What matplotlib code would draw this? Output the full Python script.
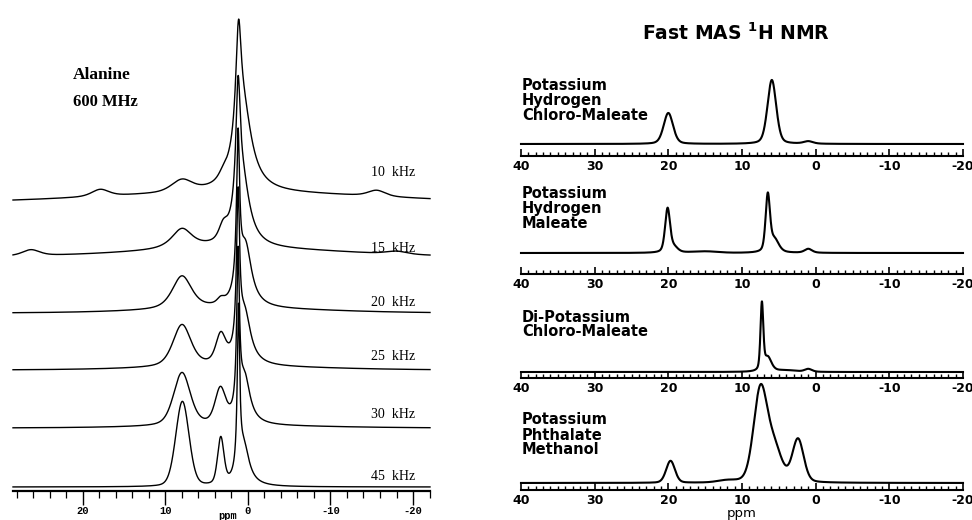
import numpy as np
import matplotlib.pyplot as plt
from matplotlib.ticker import MultipleLocator

W, H = 972, 520

# --- Alanine, 600 MHz: peaks (ppm, height in px, fwhm ppm, lorentz fraction)
speeds = ["10  kHz", "15  kHz", "20  kHz", "25  kHz", "30  kHz", "45  kHz"]
peaks_10k = [(1.15, 105, 0.8, 1.0), (0.6, 80, 2.6, 1.0), (3.0, 5, 1.2, 0.5), (8.0, 12, 3.0, 0.5),
             (17.9, 7, 2.5, 0.5), (-15.6, 6, 2.5, 0.5), (1.0, 10, 40, 0.0)]
peaks_15k = [(1.2, 118, 0.65, 1.0), (0.7, 65, 2.2, 1.0), (3.0, 13, 1.2, 0.5), (8.0, 20, 3.0, 0.8),
             (26.3, 6, 2.5, 0.5), (-18.0, 3, 3.0, 0.5), (1.0, 8, 30, 0.0)]
peaks_20k = [(1.2, 150, 0.45, 1.0), (0.3, 60, 1.8, 1.0), (3.3, 5, 1.0, 0.5), (8.0, 33, 2.8, 0.6),
             (1.0, 4, 25, 0.0)]
peaks_25k = [(1.2, 150, 0.45, 1.0), (0.4, 50, 1.8, 1.0), (3.3, 28, 1.4, 0.5), (8.0, 42, 2.6, 0.5),
             (1.0, 3, 25, 0.0)]
peaks_30k = [(1.2, 155, 0.4, 1.0), (0.4, 45, 1.6, 1.0), (3.35, 34, 1.5, 0.4), (8.0, 53, 2.4, 0.4),
             (1.0, 2, 25, 0.0)]
peaks_45k = [(1.15, 160, 0.35, 1.0), (0.5, 38, 1.6, 1.0), (3.3, 46, 0.9, 0.3), (7.95, 85, 1.9, 0.2)]
alanine_peaks = [peaks_10k, peaks_15k, peaks_20k, peaks_25k, peaks_30k, peaks_45k]

# --- Fast MAS 1H NMR samples
samples = [["Potassium", "Hydrogen", "Chloro-Maleate"],
           ["Potassium", "Hydrogen", "Maleate"],
           ["Di-Potassium", "Chloro-Maleate"],
           ["Potassium", "Phthalate", "Methanol"]]
peaks_hcm = [(20.0, 31, 1.5, 0.3), (5.95, 64, 1.4, 0.3), (1.0, 2.5, 1.5, 0.5)]
peaks_hm = [(20.1, 44, 0.8, 0.4), (19.2, 5, 1.2, 0.5), (6.5, 56, 0.7, 0.4), (5.6, 13, 1.4, 0.5),
            (1.0, 4, 1.2, 0.5), (15.0, 1.5, 4.0, 0.0)]
peaks_dkcm = [(7.3, 66, 0.45, 0.4), (6.5, 14, 1.2, 0.5), (1.0, 3, 1.2, 0.5), (4.0, 1.5, 3.0, 0.0)]
peaks_kpm = [(19.7, 22, 1.4, 0.2), (12.0, 2, 3.0, 0.0), (7.5, 92, 2.2, 0.2), (5.6, 32, 2.4, 0.2),
             (2.4, 43, 1.8, 0.2)]
sample_peaks = [peaks_hcm, peaks_hm, peaks_dkcm, peaks_kpm]


def lineshape(x, peaks):
    # pseudo-voigt sum
    y = np.zeros_like(x)
    for pos, h, w, eta in peaks:
        d = (x - pos) / (w / 2)
        y += h * (eta / (1 + d ** 2) + (1 - eta) * np.exp(-np.log(2) * d ** 2))
    return y


def px_axes(fig, x0, y0, x1, y1):
    return fig.add_axes([x0 / W, 1 - y1 / H, (x1 - x0) / W, (y1 - y0) / H])


def fig_text(fig, x, y, s, **kw):
    return fig.text(x / W, 1 - y / H, s, **kw)


def hide_frame(ax):
    for side in ["top", "left", "right"]:
        ax.spines[side].set_visible(False)
    ax.set_yticks([])
    ax.patch.set_alpha(0)


def alanine_panel(fig):
    axis_y = 491
    ax = px_axes(fig, 13, 0, 430, axis_y)
    ax.set_xlim(28.48, -22.06)
    ax.set_ylim(0, axis_y)
    hide_frame(ax)
    ax.spines["bottom"].set_linewidth(1.6)

    x = np.linspace(28.48, -22.06, 3000)
    base_px = [203, 257, 313, 370, 428, 487]
    for peaks, b in zip(alanine_peaks, base_px):
        ax.plot(x, axis_y - b + lineshape(x, peaks), color="black", lw=1.0, clip_on=False)

    ax.xaxis.set_minor_locator(MultipleLocator(2))
    ax.tick_params(axis="x", which="major", direction="out", length=10, width=1, pad=1)
    ax.tick_params(axis="x", which="minor", direction="out", length=5, width=0.9)
    ax.set_xticks(np.arange(-20, 21, 10))
    ax.set_xticklabels([str(v) for v in np.arange(-20, 21, 10)], family="Liberation Mono",
                       weight="bold", fontsize=7.5)

    fig_text(fig, 228, 516, "ppm", family="Liberation Mono", weight="bold", fontsize=7.5,
             ha="center", va="center")
    fig_text(fig, 73, 75, "Alanine", family="Liberation Serif", weight="bold", fontsize=12.5,
             va="center")
    fig_text(fig, 73, 102, "600 MHz", family="Liberation Serif", weight="bold", fontsize=12,
             va="center")
    label_px = [173, 248, 303, 357, 414, 477]
    for s, y in zip(speeds, label_px):
        fig_text(fig, 415, y, s, family="Liberation Serif", fontsize=10, ha="right", va="center")


def mas_panel(fig):
    fig_text(fig, 736, 33, r"Fast MAS $^{\mathbf{1}}$H NMR", weight="bold", fontsize=13.5,
             ha="center", va="center")
    axis_px = [156, 274, 378, 490]
    top_px = [70, 185, 295, 385]
    base_px = [144, 253, 372, 483]
    name_px = [86, 194, 317, 420]
    x = np.linspace(40, -20, 3000)
    for i in range(4):
        ax = px_axes(fig, 521, top_px[i], 963, axis_px[i])
        ax.set_xlim(40, -20)
        ax.set_ylim(0, axis_px[i] - top_px[i])
        hide_frame(ax)
        ax.spines["bottom"].set_linewidth(1.5)
        ax.plot(x, axis_px[i] - base_px[i] + lineshape(x, sample_peaks[i]), color="black",
                lw=1.5, clip_on=False)
        ax.xaxis.set_minor_locator(MultipleLocator(1))
        ax.tick_params(axis="x", which="major", direction="in", length=5, width=1.2, pad=3)
        ax.tick_params(axis="x", which="minor", direction="in", length=3, width=1)
        ax.set_xticks(np.arange(-20, 41, 10))
        ax.set_xticklabels([str(v) for v in np.arange(-20, 41, 10)], weight="bold", fontsize=9)
        for j, line in enumerate(samples[i]):
            fig_text(fig, 522, name_px[i] + 15 * j, line, weight="bold", fontsize=10.5,
                     va="center")
    fig_text(fig, 742, 514, "ppm", fontsize=9.5, ha="center", va="center")


def main():
    fig = plt.figure(figsize=(W / 100, H / 100), dpi=100)
    alanine_panel(fig)
    mas_panel(fig)
    fig.savefig("out.png", dpi=100)


if __name__ == "__main__":
    main()
